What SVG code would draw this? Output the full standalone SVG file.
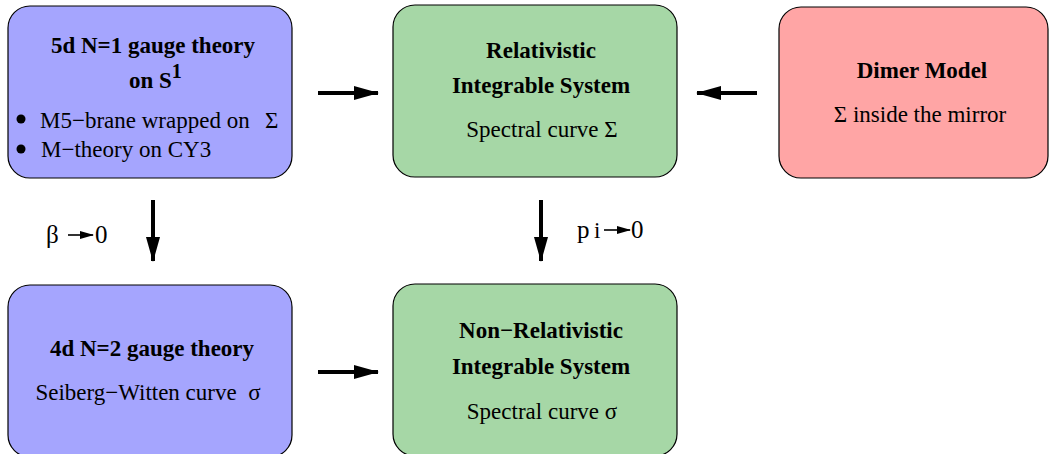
<svg xmlns="http://www.w3.org/2000/svg" width="1050" height="454" viewBox="0 0 1050 454">
<style>
.box{stroke:#000;stroke-width:1.2}
.blue{fill:#a5a5fe}
.green{fill:#a6d7a6}
.red{fill:#ffa5a5}
text{font-family:"Liberation Serif","Times New Roman",serif;fill:#000}
.b{font-weight:bold;font-size:23px}
.n{font-size:23px}
.l{font-size:25px}
.c{text-anchor:middle}
.conn line{stroke:#000;stroke-width:4}
.small{stroke:#000;stroke-width:1.6}
</style>
<defs>
<marker id="ah" markerUnits="userSpaceOnUse" markerWidth="25" markerHeight="14" refX="24" refY="7" orient="auto">
<path d="M0,0 L25,7 L0,14 Z" fill="#000"/>
</marker>
<marker id="sh" markerUnits="userSpaceOnUse" markerWidth="14" markerHeight="8" refX="13" refY="4" orient="auto">
<path d="M0,0 L14,4 L0,8 Z" fill="#000"/>
</marker>
</defs>
<rect width="1050" height="454" fill="#fff"/>
<g id="n5d">
<rect class="box blue" x="8" y="6" width="284" height="172" rx="22"/>
<text class="b c" x="153" y="53">5d N=1 gauge theory</text>
<text class="b" x="129" y="88">on S<tspan dy="-10" font-size="20px">1</tspan></text>
<circle cx="21" cy="119" r="4.5" fill="#000"/>
<text class="n" x="40" y="128">M5−brane wrapped on</text>
<text class="n" x="265" y="128">Σ</text>
<circle cx="21" cy="149" r="4.5" fill="#000"/>
<text class="n" x="41" y="157">M−theory on CY3</text>
</g>
<g id="nrel">
<rect class="box green" x="393" y="5" width="284" height="172" rx="22"/>
<text class="b c" x="541" y="58">Relativistic</text>
<text class="b c" x="541" y="93">Integrable System</text>
<text class="n c" x="542" y="137">Spectral curve Σ</text>
</g>
<g id="ndimer">
<rect class="box red" x="779" y="7" width="269" height="171" rx="22"/>
<text class="b c" x="922" y="78">Dimer Model</text>
<text class="n c" x="920" y="122">Σ inside the mirror</text>
</g>
<g id="n4d">
<rect class="box blue" x="8" y="285" width="284" height="172" rx="22"/>
<text class="b c" x="152" y="356">4d N=2 gauge theory</text>
<text class="n c" x="148" y="400" xml:space="preserve">Seiberg−Witten curve  σ</text>
</g>
<g id="nnonrel">
<rect class="box green" x="393" y="284" width="284" height="172" rx="22"/>
<text class="b c" x="541" y="338">Non−Relativistic</text>
<text class="b c" x="541" y="374">Integrable System</text>
<text class="n c" x="542" y="419">Spectral curve σ</text>
</g>
<g id="connectors" class="conn">
<line x1="318" y1="93" x2="378" y2="93" marker-end="url(#ah)"/>
<line x1="757" y1="93" x2="697" y2="93" marker-end="url(#ah)"/>
<line x1="318" y1="372" x2="378" y2="372" marker-end="url(#ah)"/>
<line x1="153" y1="200" x2="153" y2="261" marker-end="url(#ah)"/>
<line x1="541" y1="200" x2="541" y2="261" marker-end="url(#ah)"/>
</g>
<g id="labels">
<text class="l" x="46" y="243">β</text>
<line class="small" x1="68" y1="235" x2="93" y2="235" marker-end="url(#sh)"/>
<text class="l" x="95" y="243">0</text>
<text class="l" x="577" y="238">p</text>
<text class="n" x="594" y="238">i</text>
<line class="small" x1="604" y1="230" x2="630" y2="230" marker-end="url(#sh)"/>
<text class="l" x="631" y="238">0</text>
</g>
</svg>
